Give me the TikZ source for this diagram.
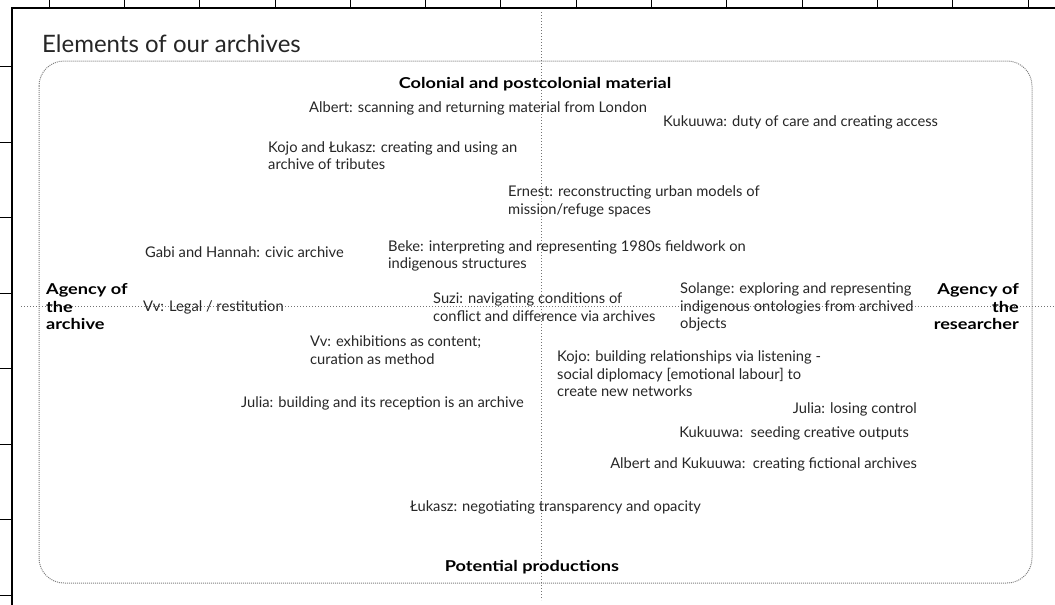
\documentclass[tikz,border=0pt]{standalone}
\usepackage{fontspec}
\setmainfont{Lato}
\newfontfamily\widefont[FakeStretch=1.21]{Lato}
\usepackage{tikz}

\tikzset{
  item/.style={inner sep=0pt, align=left, text=black!85, font=\fontsize{14.7}{17.5}\selectfont},
  axislabel/.style={inner sep=0pt, text=black, font=\widefont\bfseries\fontsize{15}{17.5}\selectfont},
  axisline/.style={dotted, black!55, line width=1pt},
}

\begin{document}
\begin{tikzpicture}[x=1pt,y=-1pt]
\useasboundingbox (0,0) rectangle (1055,605);
% page frame and grid ticks
\draw[line width=1.6pt] (1055,8) -- (12,8) -- (12,605);
\foreach \k in {0,...,13} {
    \draw[line width=0.8pt] (49+75.3*\k,0) -- (49+75.3*\k,8);
}
\foreach \k in {0,...,7} {
    \draw[line width=0.8pt] (0,66.5+75.5*\k) -- (12,66.5+75.5*\k);
}
\node (title) at (42,44) [anchor=west, inner sep=0pt, text=black!85, font=\fontsize{24}{28}\selectfont]{Elements of our archives};
% dotted box
\draw[densely dotted, black!50, line width=1pt, rounded corners=25pt] (39,61) rectangle (1032,583);
% axes
\coordinate (top) at (541,12);
\coordinate (bottom) at (541,600);
\coordinate (left) at (21,306);
\coordinate (right) at (1055,306);
\draw[axisline] (top) -- (bottom);
\draw[axisline] (left) -- (right);
% axis labels
\node (colonial) at (535,84) [axislabel]{Colonial and postcolonial material};
\node (potential) at (532,567) [axislabel]{Potential productions};
\node (agencyarch) at (46,307) [axislabel, anchor=west, align=left]{Agency of\\the\\archive};
\node (agencyres) at (1019,307) [axislabel, anchor=east, align=right]{Agency of\\the\\researcher};
% items
\node (albert) at (309,108) [item, anchor=west]{Albert: scanning and returning material from London};
\node (kukuuwa) at (663,122) [item, anchor=west]{Kukuuwa: duty of care and creating access};
\node (kojotrib) at (268,155.5) [item, anchor=west]{Kojo and Łukasz: creating and using an\\archive of tributes};
\node (ernest) at (508,201.5) [item, anchor=west]{Ernest: reconstructing urban models of\\mission/refuge spaces};
\node (gabi) at (145,252) [item, anchor=west]{Gabi and Hannah: civic archive};
\node (beke) at (388,256) [item, anchor=west]{Beke: interpreting and representing 1980s fieldwork on\\indigenous structures};
\node (vvlegal) at (143,307) [item, anchor=west]{Vv: Legal / restitution};
\node (suzi) at (433,307) [item, anchor=west]{Suzi: navigating conditions of\\conflict and difference via archives};
\node (solange) at (680,307) [item, anchor=west]{Solange: exploring and representing\\indigenous ontologies from archived\\objects};
\node (vvexhib) at (310,350) [item, anchor=west]{Vv: exhibitions as content;\\curation as method};
\node (kojolisten) at (557,374) [item, anchor=west]{Kojo: building relationships via listening -\\social diplomacy [emotional labour] to\\create new networks};
\node (juliabuild) at (241,403) [item, anchor=west]{Julia: building and its reception is an archive};
\node (julialose) at (917,409) [item, anchor=east]{Julia: losing control};
\node (seeding) at (909,433) [item, anchor=east]{Kukuuwa:\ \ seeding creative outputs};
\node (fictional) at (917,464) [item, anchor=east]{Albert and Kukuuwa:\ \ creating fictional archives};
\node (lukasz) at (410,507) [item, anchor=west]{Łukasz: negotiating transparency and opacity};
\end{tikzpicture}
\end{document}
